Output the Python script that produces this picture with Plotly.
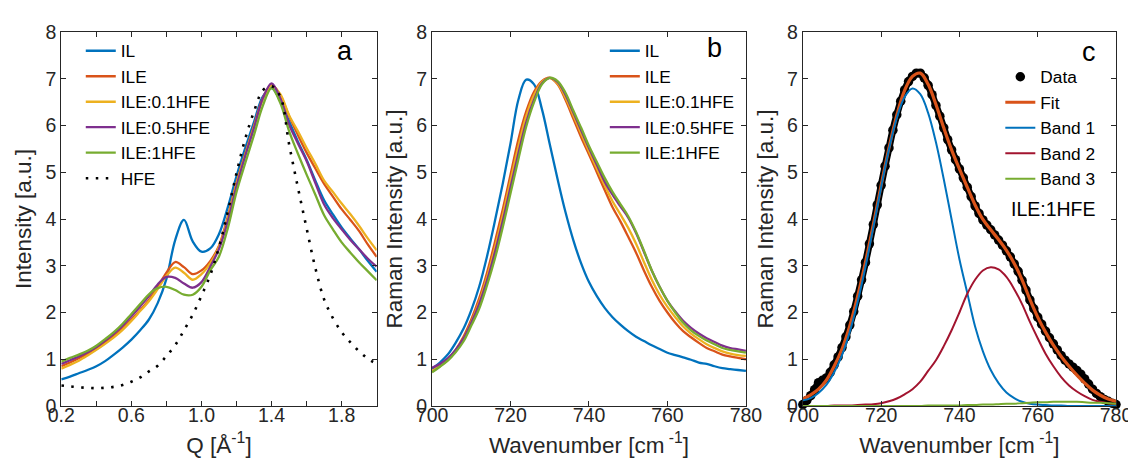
import plotly.graph_objects as go

# ---------------- Panel a: SAXS/WAXS intensity vs Q ----------------
q = [0.20, 0.25, 0.30, 0.35, 0.40, 0.45, 0.50, 0.55, 0.60, 0.65, 0.70, 0.75, 0.80,
     0.85, 0.90, 0.95, 1.00, 1.05, 1.10, 1.15, 1.20, 1.25, 1.30, 1.35, 1.40, 1.45,
     1.50, 1.55, 1.60, 1.65, 1.70, 1.75, 1.80, 1.85, 1.90, 1.95, 2.00]
a_IL = [0.57, 0.63, 0.70, 0.77, 0.85, 0.96, 1.10, 1.25, 1.42, 1.62, 1.85, 2.20, 2.72,
        3.55, 3.98, 3.52, 3.30, 3.37, 3.68, 4.25, 4.92, 5.52, 6.08, 6.62, 6.80, 6.52,
        6.09, 5.66, 5.27, 4.82, 4.40, 4.10, 3.82, 3.58, 3.35, 3.10, 2.87]
a_ILE = [0.85, 0.93, 1.02, 1.12, 1.23, 1.36, 1.50, 1.66, 1.85, 2.05, 2.27, 2.55, 2.85,
         3.08, 2.97, 2.82, 2.90, 3.10, 3.43, 4.05, 4.78, 5.40, 6.00, 6.58, 6.87, 6.64,
         6.20, 5.80, 5.42, 5.08, 4.75, 4.48, 4.21, 3.98, 3.74, 3.45, 3.19]
a_ILE01 = [0.80, 0.88, 0.97, 1.08, 1.20, 1.33, 1.47, 1.63, 1.82, 2.03, 2.24, 2.50, 2.78,
           2.96, 2.85, 2.70, 2.82, 3.05, 3.40, 4.00, 4.75, 5.38, 5.97, 6.55, 6.86, 6.67,
           6.22, 5.88, 5.52, 5.18, 4.82, 4.58, 4.33, 4.10, 3.85, 3.58, 3.33]
a_ILE05 = [0.90, 0.98, 1.06, 1.15, 1.26, 1.40, 1.55, 1.72, 1.92, 2.13, 2.35, 2.60, 2.76,
           2.74, 2.62, 2.53, 2.65, 2.98, 3.36, 3.95, 4.70, 5.35, 5.95, 6.58, 6.90, 6.58,
           6.02, 5.62, 5.24, 4.77, 4.31, 4.02, 3.78, 3.55, 3.35, 3.15, 2.98]
a_ILE1 = [0.95, 1.03, 1.10, 1.18, 1.29, 1.43, 1.58, 1.76, 1.97, 2.18, 2.39, 2.52, 2.55,
          2.48, 2.38, 2.38, 2.55, 2.90, 3.20, 3.80, 4.58, 5.20, 5.80, 6.42, 6.80, 6.48,
          5.88, 5.40, 4.95, 4.52, 4.08, 3.78, 3.50, 3.28, 3.07, 2.88, 2.69]
a_HFE = [0.44, 0.42, 0.40, 0.39, 0.38, 0.39, 0.41, 0.45, 0.52, 0.61, 0.74, 0.86, 1.07,
         1.30, 1.62, 1.95, 2.36, 2.80, 3.40, 4.15, 4.98, 5.72, 6.30, 6.75, 6.84, 6.62,
         5.60, 4.68, 3.80, 2.95, 2.28, 1.88, 1.58, 1.36, 1.17, 1.01, 0.90]

a_xtickvals = [0.2, 0.4, 0.6, 0.8, 1.0, 1.2, 1.4, 1.6, 1.8, 2.0]
a_xticktext = ["0.2", "", "0.6", "", "1.0", "", "1.4", "", "1.8", ""]

# ---------------- Panel b: Raman spectra ----------------
wn = [700, 702, 704, 706, 708, 710, 712, 714, 716, 718, 720, 722, 724, 726, 728, 730,
      732, 734, 736, 738, 740, 742, 744, 746, 748, 750, 752, 754, 756, 758, 760, 762,
      764, 766, 768, 770, 772, 774, 776, 778, 780]
b_IL = [0.80, 0.93, 1.10, 1.35, 1.65, 2.05, 2.55, 3.20, 3.95, 4.75, 5.62, 6.55, 6.98,
        6.88, 6.35, 5.60, 4.85, 4.15, 3.55, 3.05, 2.65, 2.35, 2.10, 1.90, 1.74, 1.60,
        1.48, 1.39, 1.30, 1.22, 1.14, 1.09, 1.04, 0.99, 0.93, 0.90, 0.85, 0.81, 0.79,
        0.77, 0.75]
b_ILE = [0.75, 0.86, 1.00, 1.20, 1.48, 1.85, 2.30, 2.85, 3.50, 4.20, 4.95, 5.70, 6.30,
         6.72, 6.95, 7.02, 6.88, 6.55, 6.15, 5.75, 5.38, 5.00, 4.62, 4.25, 3.95, 3.62,
         3.28, 2.90, 2.55, 2.25, 2.00, 1.78, 1.60, 1.47, 1.35, 1.24, 1.17, 1.10, 1.06,
         1.03, 1.00]
b_ILE01 = [0.74, 0.85, 0.98, 1.17, 1.43, 1.79, 2.22, 2.75, 3.38, 4.07, 4.82, 5.55, 6.20,
           6.65, 6.93, 7.02, 6.90, 6.60, 6.22, 5.83, 5.45, 5.08, 4.72, 4.38, 4.10, 3.81,
           3.47, 3.08, 2.70, 2.38, 2.12, 1.90, 1.70, 1.55, 1.43, 1.32, 1.24, 1.17, 1.12,
           1.09, 1.07]
b_ILE05 = [0.82, 0.90, 1.02, 1.20, 1.44, 1.78, 2.18, 2.68, 3.28, 3.95, 4.68, 5.40, 6.07,
           6.55, 6.90, 7.02, 6.93, 6.66, 6.28, 5.90, 5.52, 5.16, 4.80, 4.52, 4.27, 4.03,
           3.70, 3.30, 2.90, 2.55, 2.25, 2.02, 1.82, 1.67, 1.55, 1.45, 1.37, 1.29, 1.24,
           1.21, 1.18]
b_ILE1 = [0.72, 0.84, 0.97, 1.15, 1.38, 1.72, 2.08, 2.58, 3.15, 3.82, 4.55, 5.28, 5.98,
          6.50, 6.88, 7.02, 6.95, 6.70, 6.32, 5.95, 5.56, 5.22, 4.88, 4.58, 4.32, 4.06,
          3.72, 3.32, 2.90, 2.55, 2.25, 2.00, 1.78, 1.62, 1.50, 1.40, 1.32, 1.24, 1.20,
          1.17, 1.14]

# ---------------- Panel c: band fit of ILE:1HFE ----------------
c_wn_data = list(range(700, 781))
c_data = [0.03, 0.12, 0.22, 0.35, 0.50, 0.55, 0.60, 0.72, 0.88, 1.05, 1.25, 1.48, 1.73,
          2.02, 2.35, 2.70, 3.07, 3.47, 3.88, 4.30, 4.72, 5.13, 5.52, 5.90, 6.23, 6.52,
          6.76, 6.94, 7.05, 7.12, 7.12, 7.02, 6.86, 6.66, 6.43, 6.20, 5.95, 5.70, 5.48,
          5.27, 5.07, 4.88, 4.68, 4.48, 4.28, 4.12, 3.98, 3.87, 3.77, 3.66, 3.55, 3.44,
          3.32, 3.19, 3.04, 2.88, 2.69, 2.48, 2.27, 2.08, 1.90, 1.75, 1.60, 1.46, 1.33,
          1.20, 1.08, 0.98, 0.90, 0.83, 0.76, 0.68, 0.58, 0.47, 0.36, 0.27, 0.20, 0.14,
          0.10, 0.06, 0.03]
c_fit = [0.15, 0.24, 0.36, 0.55, 0.85, 1.22, 1.72, 2.35, 3.08, 3.88, 4.72, 5.52, 6.22,
         6.75, 7.05, 7.12, 6.88, 6.45, 5.95, 5.48, 5.07, 4.68, 4.30, 3.99, 3.77, 3.56,
         3.33, 3.05, 2.70, 2.28, 1.90, 1.58, 1.30, 1.06, 0.85, 0.66, 0.49, 0.34, 0.23,
         0.15, 0.10]
c_band1 = [0.12, 0.17, 0.28, 0.45, 0.72, 1.09, 1.59, 2.23, 2.98, 3.82, 4.68, 5.49, 6.16,
           6.61, 6.79, 6.67, 6.27, 5.64, 4.85, 3.99, 3.14, 2.42, 1.70, 1.17, 0.77, 0.49,
           0.29, 0.17, 0.09, 0.05, 0.03, 0.02, 0.01, 0.01, 0.00, 0.00, 0.00, 0.00, 0.00,
           0.00, 0.00]
c_band2 = [0.00, 0.00, 0.00, 0.00, 0.01, 0.01, 0.01, 0.02, 0.03, 0.04, 0.06, 0.10, 0.16,
           0.25, 0.36, 0.52, 0.75, 0.98, 1.28, 1.62, 2.00, 2.40, 2.70, 2.90, 2.97, 2.92,
           2.76, 2.50, 2.18, 1.80, 1.45, 1.12, 0.85, 0.62, 0.44, 0.31, 0.21, 0.13, 0.09,
           0.06, 0.04]
c_band3 = [0.00, 0.00, 0.00, 0.00, 0.00, 0.00, 0.00, 0.00, 0.00, 0.00, 0.00, 0.00, 0.00,
           0.00, 0.00, 0.00, 0.01, 0.01, 0.01, 0.01, 0.01, 0.02, 0.02, 0.03, 0.03, 0.04,
           0.05, 0.05, 0.06, 0.07, 0.08, 0.08, 0.09, 0.09, 0.09, 0.09, 0.08, 0.07, 0.07,
           0.06, 0.05]

names_ab = ["IL", "ILE", "ILE:0.1HFE", "ILE:0.5HFE", "ILE:1HFE"]
colors = ["#0072BD", "#D95319", "#EDB120", "#7E2F8E", "#77AC30"]
band2_color = "#A2142F"

FONT = "Liberation Sans, Arial, Helvetica, sans-serif"
AX = "#262626"
LW = 2.3
SM = 1.0

fig = go.Figure()

for name, ys, col in zip(names_ab, [a_IL, a_ILE, a_ILE01, a_ILE05, a_ILE1], colors):
    fig.add_trace(go.Scatter(x=q, y=ys, name=name, mode="lines",
                             line=dict(color=col, width=LW, shape="spline", smoothing=SM),
                             xaxis="x", yaxis="y", legend="legend"))
fig.add_trace(go.Scatter(x=q, y=a_HFE, name="HFE", mode="lines",
                         line=dict(color="black", width=2.6, dash="2.5px,7.5px",
                                   shape="spline", smoothing=SM),
                         xaxis="x", yaxis="y", legend="legend"))

for name, ys, col in zip(names_ab, [b_IL, b_ILE, b_ILE01, b_ILE05, b_ILE1], colors):
    fig.add_trace(go.Scatter(x=wn, y=ys, name=name, mode="lines",
                             line=dict(color=col, width=LW, shape="spline", smoothing=SM),
                             xaxis="x2", yaxis="y2", legend="legend2"))

# panel c
fig.add_trace(go.Scatter(x=c_wn_data, y=c_data, mode="lines", showlegend=False,
                         line=dict(color="black", width=7, shape="spline", smoothing=SM),
                         xaxis="x3", yaxis="y3", hoverinfo="skip"))
fig.add_trace(go.Scatter(x=c_wn_data, y=c_data, name="Data", mode="markers",
                         marker=dict(color="black", size=9.5), cliponaxis=False,
                         xaxis="x3", yaxis="y3", legend="legend3"))
fig.add_trace(go.Scatter(x=wn, y=c_fit, name="Fit", mode="lines",
                         line=dict(color="#D95319", width=3.2, shape="spline", smoothing=SM),
                         xaxis="x3", yaxis="y3", legend="legend3"))
fig.add_trace(go.Scatter(x=wn, y=c_band1, name="Band 1", mode="lines",
                         line=dict(color="#0072BD", width=2, shape="spline", smoothing=SM),
                         xaxis="x3", yaxis="y3", legend="legend3"))
fig.add_trace(go.Scatter(x=wn, y=c_band2, name="Band 2", mode="lines",
                         line=dict(color=band2_color, width=2, shape="spline", smoothing=SM),
                         xaxis="x3", yaxis="y3", legend="legend3"))
fig.add_trace(go.Scatter(x=wn, y=c_band3, name="Band 3", mode="lines",
                         line=dict(color="#77AC30", width=2, shape="spline", smoothing=SM),
                         xaxis="x3", yaxis="y3", legend="legend3"))

L, R, T, B = 53, 16, 24, 63
W, H = 1136, 461
pw = W - L - R


def dom(p0, p1):
    return [(p0 - L) / pw, (p1 - L) / pw]


def xax(domain, title, rng, **kw):
    d = dict(domain=domain, range=rng, showline=True, linecolor=AX, linewidth=1,
             mirror="ticks", ticks="inside", ticklen=5, tickcolor=AX, tickwidth=1,
             showgrid=False, zeroline=False, ticklabelstandoff=-8,
             tickfont=dict(family=FONT, size=19.5, color=AX),
             title=dict(text=title, font=dict(family=FONT, size=22.5, color=AX), standoff=11))
    d.update(kw)
    return d


def yax(anchor, title):
    return dict(anchor=anchor, domain=[0, 1], range=[0, 8], dtick=1,
                showline=True, linecolor=AX, linewidth=1, mirror="ticks",
                ticks="inside", ticklen=5, tickcolor=AX, tickwidth=1,
                showgrid=False, zeroline=False,
                tickfont=dict(family=FONT, size=19.5, color=AX),
                title=dict(text=title, font=dict(family=FONT, size=22.5, color=AX), standoff=7))


def legend(xpx, ypx):
    return dict(x=(xpx - L) / pw, y=(H - B - ypx) / (H - T - B), xanchor="left", yanchor="top",
                bgcolor="rgba(0,0,0,0)", borderwidth=0,
                font=dict(family=FONT, size=17.3, color="black"), tracegroupgap=0)


fig.update_layout(
    width=W, height=H, margin=dict(l=L, r=R, t=T, b=B),
    paper_bgcolor="white", plot_bgcolor="white",
    font=dict(family=FONT, color=AX),
    xaxis=xax(dom(53.3, 372.3), "Q [Å<sup>-1</sup>]", [0.2, 2.0],
              tickmode="array", tickvals=a_xtickvals, ticktext=a_xticktext, anchor="y"),
    xaxis2=xax(dom(428.3, 745.7), "Wavenumber [cm<sup> -1</sup>]", [700, 780],
               dtick=20, anchor="y2"),
    xaxis3=xax(dom(803.3, 1120), "Wavenumber [cm<sup> -1</sup>]", [700, 780],
               dtick=20, anchor="y3"),
    yaxis=yax("x", "Intensity [a.u.]"),
    yaxis2=yax("x2", "Raman Intensity [a.u.]"),
    yaxis3=yax("x3", "Raman Intensity [a.u.]"),
    legend=legend(73, 25),
    legend2=legend(603, 25),
    legend3=legend(1003, 51),
    showlegend=True,
    annotations=[
        dict(text="a", x=1.82, y=7.6, xref="x", yref="y", showarrow=False,
             font=dict(family=FONT, size=27, color="black")),
        dict(text="b", x=772.1, y=7.66, xref="x2", yref="y2", showarrow=False,
             font=dict(family=FONT, size=27, color="black")),
        dict(text="c", x=773, y=7.57, xref="x3", yref="y3", showarrow=False,
             font=dict(family=FONT, size=27, color="black")),
        dict(text="ILE:1HFE", x=775.3, y=4.22, xref="x3", yref="y3", showarrow=False,
             xanchor="right", font=dict(family=FONT, size=19.5, color="black")),
    ],
)

fig.write_html("out.html")
